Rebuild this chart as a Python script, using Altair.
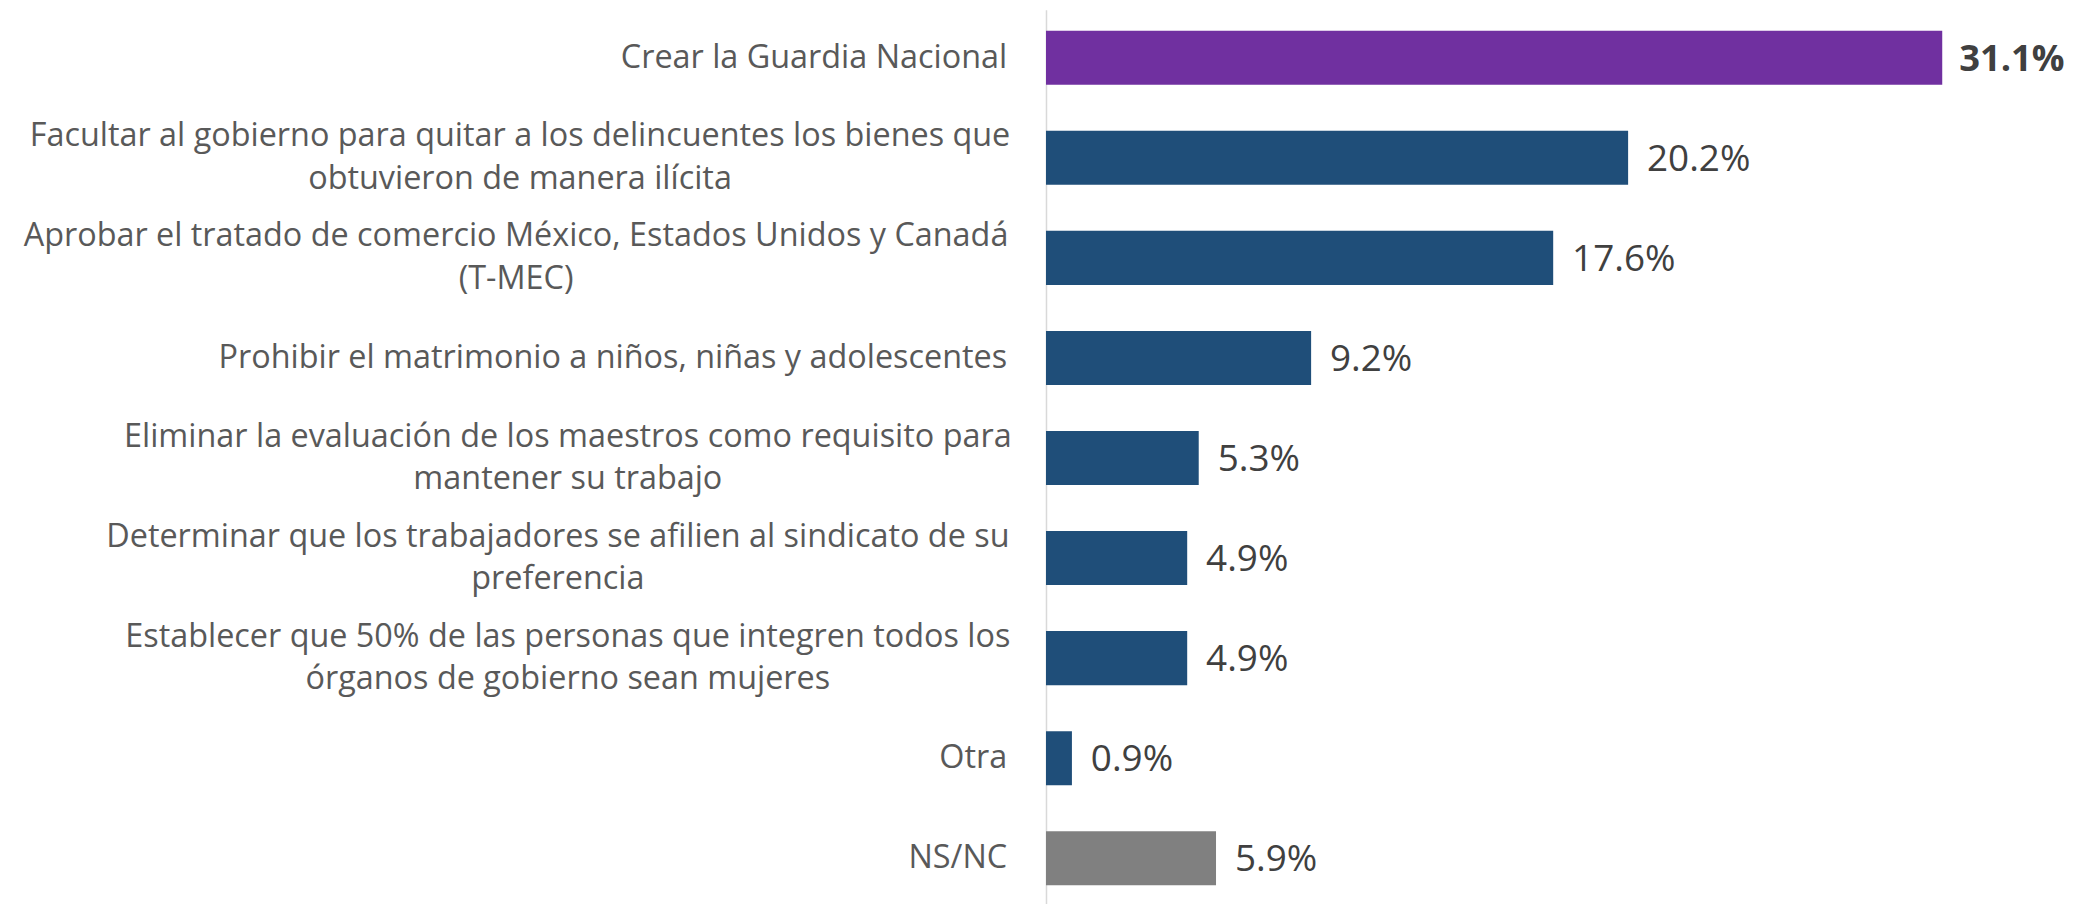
import altair as alt
import pandas as pd

# ---- data ----
categories = [
    "Crear la Guardia Nacional",
    "Facultar al gobierno para quitar a los delincuentes los bienes que obtuvieron de manera ilícita",
    "Aprobar el tratado de comercio México, Estados Unidos y Canadá (T-MEC)",
    "Prohibir el matrimonio a niños, niñas y adolescentes",
    "Eliminar la evaluación de los maestros como requisito para mantener su trabajo",
    "Determinar que los trabajadores se afilien al sindicato de su preferencia",
    "Establecer que 50% de las personas que integren todos los órganos de gobierno sean mujeres",
    "Otra",
    "NS/NC",
]
label_lines = [
    ["Crear la Guardia Nacional"],
    ["Facultar al gobierno para quitar a los delincuentes los bienes que", "obtuvieron de manera ilícita"],
    ["Aprobar el tratado de comercio México, Estados Unidos y Canadá", "(T-MEC)"],
    ["Prohibir el matrimonio a niños, niñas y adolescentes"],
    ["Eliminar la evaluación de los maestros como requisito para", "mantener su trabajo"],
    ["Determinar que los trabajadores se afilien al sindicato de su", "preferencia"],
    ["Establecer que 50% de las personas que integren todos los", "órganos de gobierno sean mujeres"],
    ["Otra"],
    ["NS/NC"],
]
values = [31.1, 20.2, 17.6, 9.2, 5.3, 4.9, 4.9, 0.9, 5.9]
groups = ["destacada", "normal", "normal", "normal", "normal", "normal", "normal", "normal", "nsnc"]

# ---- styling (label block centres, px left of the axis) ----
label_centre_px = [0, -528, -532, 0, -480, -490, -480, 0, 0]

group_domain = ["destacada", "normal", "nsnc"]
group_colors = ["#7030A0", "#1F4E79", "#808080"]
FONT = "Open Sans"
LABEL_SIZE = 32.5
VALUE_SIZE = 37
LINE_H = 43

df = pd.DataFrame({
    "cat": categories,
    "val": values,
    "grp": groups,
    "label": ["\n".join(l) for l in label_lines],
    "nlines": [len(l) for l in label_lines],
    "cx": label_centre_px,
})

y_enc = alt.Y(
    "cat:N",
    sort=categories,
    scale=alt.Scale(paddingInner=0.46, paddingOuter=0.21),
    axis=alt.Axis(labels=False, ticks=False, title=None, domainColor="#d9d9d9", domainWidth=1.5),
)
x_enc = alt.X("val:Q", scale=alt.Scale(domain=[0, 35.5]), axis=None)

base = alt.Chart(df)

bars = base.mark_bar().encode(
    y=y_enc,
    x=x_enc,
    color=alt.Color("grp:N", scale=alt.Scale(domain=group_domain, range=group_colors), legend=None),
)

vals_normal = base.transform_filter(alt.datum.grp != "destacada").transform_calculate(
    txt="format(datum.val, '.1f') + '%'"
).mark_text(align="left", baseline="middle", dx=19, dy=2, font=FONT, fontSize=VALUE_SIZE, color="#404040").encode(
    y=y_enc, x=x_enc, text="txt:N"
)

vals_bold = base.transform_filter(alt.datum.grp == "destacada").transform_calculate(
    txt="format(datum.val, '.1f') + '%'"
).mark_text(align="left", baseline="middle", dx=17, dy=2, font=FONT, fontSize=VALUE_SIZE - 0.5, fontWeight="bold", color="#404040").encode(
    y=y_enc, x=x_enc, text="txt:N"
)

labels_single = base.transform_filter(alt.datum.nlines == 1).mark_text(
    align="right", baseline="middle", font=FONT, fontSize=LABEL_SIZE, color="#595959"
).encode(y=y_enc, x=alt.value(-39), text="label:N")

labels_multi = base.transform_filter(alt.datum.nlines > 1).mark_text(
    align="center", baseline="middle", font=FONT, fontSize=LABEL_SIZE, color="#595959",
    lineBreak="\n", lineHeight=LINE_H, dy=-LINE_H / 2,
).encode(y=y_enc, x=alt.value(0), xOffset=alt.XOffset("cx:Q", scale=None), text="label:N")

chart = alt.layer(bars, vals_normal, vals_bold, labels_single, labels_multi).properties(
    width=1027,
    height=900,
    autosize=alt.AutoSizeParams(type="none"),
    padding={"left": 1042, "top": 0, "right": 9, "bottom": 0},
).configure_view(stroke=None)

chart.save("out.html", embed_options={"renderer": "svg", "actions": False})
